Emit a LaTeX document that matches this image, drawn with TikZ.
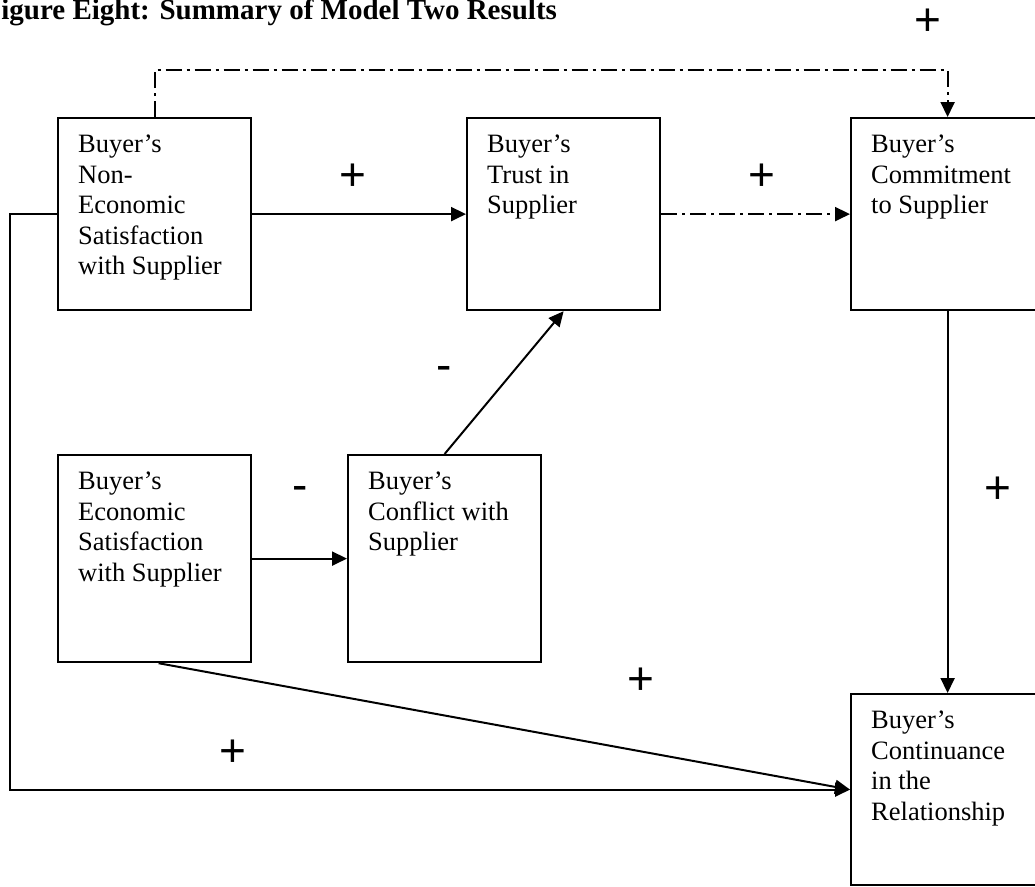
\documentclass[tikz,border=0pt]{standalone}
\usepackage{fontspec}
\setmainfont{Liberation Serif}
\newfontfamily\signfont{Liberation Sans}
\usetikzlibrary{arrows.meta}

\tikzset{
  box/.style={draw, line width=2.2pt, minimum width=193pt, minimum height=192pt,
              inner sep=0pt, anchor=north west},
  tallbox/.style={box, minimum height=207pt},
  boxtext/.style={anchor=north west, inner sep=0pt, align=left,
                  font=\fontsize{26.5}{30.5}\selectfont},
  conn/.style={line width=2pt, -{Triangle[length=15pt,width=14pt]}},
  dashdot/.style={conn, dash pattern=on 16pt off 5pt on 3pt off 5pt},
  sign/.style={inner sep=0pt, font=\signfont\fontsize{46}{46}\selectfont},
}

\begin{document}
\begin{tikzpicture}[x=1pt, y=-1pt]
\useasboundingbox (0,0) rectangle (1035,886);

% heading
\node[anchor=base west, inner sep=0pt, font=\bfseries\fontsize{29}{32}\selectfont]
  (title) at (-16.5,19.5) {Figure Eight: Summary of Model Two Results};

% constructs
\node[box]     (ne) at (57,117)  {};
\node[box]     (tr) at (466,117) {};
\node[box]     (cm) at (850,117) {};
\node[tallbox] (ec) at (57,454)  {};
\node[tallbox] (cf) at (347,454) {};
\node[box, minimum height=191pt] (cn) at (850,693) {};

\node[boxtext] (neT) at ([shift={(21,18)}]ne.north west)
  {Buyer’s\\Non-\\Economic\\Satisfaction\\with Supplier};
\node[boxtext] (trT) at ([shift={(21,18)}]tr.north west)
  {Buyer’s\\Trust in\\Supplier};
\node[boxtext] (cmT) at ([shift={(21,18)}]cm.north west)
  {Buyer’s\\Commitment\\to Supplier};
\node[boxtext] (ecT) at ([shift={(21,18)}]ec.north west)
  {Buyer’s\\Economic\\Satisfaction\\with Supplier};
\node[boxtext] (cfT) at ([shift={(21,18)}]cf.north west)
  {Buyer’s\\Conflict with\\Supplier};
\node[boxtext] (cnT) at ([shift={(21,18)}]cn.north west)
  {Buyer’s\\Continuance\\in the\\Relationship};

% paths
\draw[conn] (ne.east) -- (tr.west);
\draw[dashdot] (tr.east) -- (cm.west);
\draw[dashdot] (ne.north) -- ++(0,-47) -| (cm.north);
\draw[conn] (cm.south) -- (cn.north);
\draw[conn] (ne.west) -- ++(-47,0) |- (cn.west);
\draw[conn] ([xshift=4pt]ec.south) -- (cn.west);
\draw[conn] (ec.east) -- (cf.west);
\draw[conn] (cf.north) -- (tr.south);

% signs of the effects
\node[sign] (s1) at (353,177) {+};
\node[sign] (s2) at (762,177) {+};
\node[sign] (s3) at (928,22)  {+};
\node[sign] (s4) at (444,373) {-};
\node[sign] (s5) at (300,493) {-};
\node[sign] (s6) at (998,490) {+};
\node[sign] (s7) at (641,681) {+};
\node[sign] (s8) at (233,753) {+};
\end{tikzpicture}
\end{document}
